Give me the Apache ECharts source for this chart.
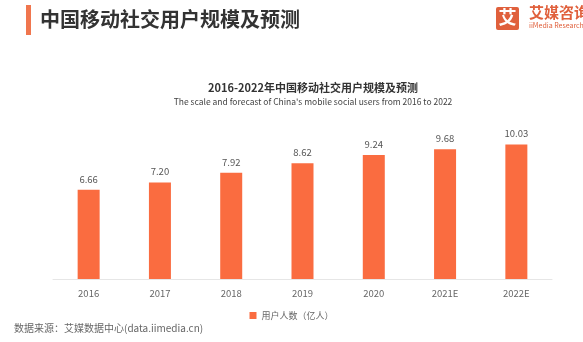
<!DOCTYPE html>
<html>
<head>
<meta charset="utf-8">
<script src="https://cdn.jsdelivr.net/npm/echarts@6/dist/echarts.min.js"></script>
<style>html,body{margin:0;padding:0;background:#fff;}#c{width:583px;height:342px;}</style>
</head>
<body>
<div id="c"></div>
<script>
var categories = ['2016','2017','2018','2019','2020','2021E','2022E'];
var users = [6.66, 7.20, 7.92, 8.62, 9.24, 9.68, 10.03];
var seriesName = '用户人数（亿人）';

var chart = echarts.init(document.getElementById('c'), null, {renderer: 'canvas'});
var font = '"Noto Sans CJK SC", "Noto Sans", sans-serif';
chart.setOption({
  backgroundColor: '#ffffff',
  animation: false,
  textStyle: {fontFamily: font},
  title: {
    text: '2016-2022年中国移动社交用户规模及预测',
    subtext: "The scale and forecast of China's mobile social users from 2016 to 2022",
    left: 308, textAlign: 'center', top: 77, itemGap: 5,
    textStyle: {fontSize: 11, fontWeight: 'bold', color: '#333', fontFamily: font},
    subtextStyle: {fontSize: 8.5, color: '#444', fontFamily: font}
  },
  graphic: [
    {type: 'rect', left: 26, top: 5, shape: {width: 5, height: 30}, style: {fill: '#f0764e'}},
    {type: 'text', left: 40, top: 9, style: {text: '中国移动社交用户规模及预测', fontSize: 20, fontWeight: 'bold', fill: '#333', fontFamily: font}},
    {type: 'rect', left: 496, top: 7, shape: {width: 23, height: 23, r: 2}, style: {fill: '#e0603c'}},
    {type: 'text', left: 498.5, top: 8, style: {text: '艾', fontSize: 18, fontWeight: 'bold', fill: '#fff', fontFamily: font}},
    {type: 'text', left: 529, top: 5, style: {text: '艾媒咨询', fontSize: 15, fontWeight: 'bold', fill: '#e0603c', fontFamily: font}},
    {type: 'text', left: 529, top: 22, style: {text: 'iiMedia Research', fontSize: 7, fill: '#e0603c', fontFamily: font}},
    {type: 'text', left: 14, top: 323, style: {text: '数据来源：艾媒数据中心(data.iimedia.cn)', fontSize: 10, fill: '#666', fontFamily: font}}
  ],
  legend: {
    data: [seriesName], top: 306, left: 'center',
    icon: 'rect', itemWidth: 7, itemHeight: 7, itemGap: 4,
    textStyle: {fontSize: 9, color: '#666', fontFamily: font}
  },
  grid: {left: 53, right: 31, top: 118, bottom: 63},
  xAxis: {
    type: 'category', data: categories,
    axisLine: {lineStyle: {color: '#e6e6e6'}},
    axisTick: {show: false},
    axisLabel: {fontSize: 9.5, color: '#666', margin: 10, fontFamily: font}
  },
  yAxis: {type: 'value', min: 0, max: 12, show: false, splitLine: {show: false}},
  series: [{
    name: seriesName, type: 'bar', data: users, barWidth: 22,
    itemStyle: {color: '#fa6c40'},
    label: {show: true, position: 'top', distance: 6, fontSize: 9.5, color: '#555',
      formatter: function(p){ return p.value.toFixed(2); }, fontFamily: font}
  }]
});
</script>
</body>
</html>
